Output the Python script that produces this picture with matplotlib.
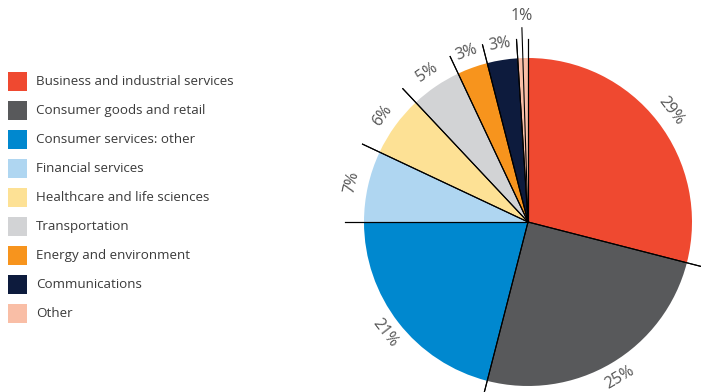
import matplotlib.pyplot as plt
import numpy as np
from matplotlib.patches import Rectangle

plt.rcParams['font.family'] = ['Open Sans', 'DejaVu Sans']

sectors = ['Business and industrial services', 'Consumer goods and retail',
           'Consumer services: other', 'Financial services',
           'Healthcare and life sciences', 'Transportation',
           'Energy and environment', 'Communications', 'Other']
shares = [29, 25, 21, 7, 6, 5, 3, 3, 1]
colors = ['#EF4930', '#58595B', '#0088CF', '#AFD6F1', '#FDE195',
          '#D2D3D5', '#F7941D', '#0D1B3D', '#F9BEA6']

W, H = 701, 392
fig = plt.figure(figsize=(W / 100, H / 100), dpi=100)
ax = fig.add_axes([0, 0, 1, 1])

cx, cy, R = 528, 170, 164
wedges, _ = ax.pie(shares, colors=colors, startangle=90, counterclock=False,
                   center=(cx, cy), radius=R, frame=True,
                   wedgeprops=dict(linewidth=0))
ax.set_xlim(0, W)
ax.set_ylim(0, H)
ax.set_aspect('equal')
ax.axis('off')

# divider lines running out past the rim, plus percentage labels
for i, w in enumerate(wedges):
    for ang in (w.theta1, w.theta2):
        t = np.radians(ang)
        ax.plot([cx, cx + 1.115 * R * np.cos(t)], [cy, cy + 1.115 * R * np.sin(t)],
                color='black', lw=0.8, zorder=3)
    mid = (w.theta1 + w.theta2) / 2
    t = np.radians(mid)
    rot = mid - 90 if np.sin(t) > 0 else mid + 90
    r_lab = 1.10 * R
    if shares[i] == 1:
        ax.plot([cx, cx + 1.185 * R * np.cos(t)], [cy, cy + 1.185 * R * np.sin(t)],
                color='black', lw=0.8, zorder=3)
        r_lab = 1.255 * R
        rot = 0
    ax.text(cx + r_lab * np.cos(t), cy + r_lab * np.sin(t), f'{shares[i]}%',
            rotation=rot, rotation_mode='anchor', ha='center', va='center',
            fontsize=11.5, color='#555555')

# legend
for i, (name, c) in enumerate(zip(sectors, colors)):
    y = H - 81 - i * 29.1
    ax.add_patch(Rectangle((8, y - 9.5), 19, 19, facecolor=c, edgecolor='none'))
    ax.text(36, y, name, ha='left', va='center', fontsize=9.6, color='#3a3a3a')

fig.savefig('out.png', dpi=100)
